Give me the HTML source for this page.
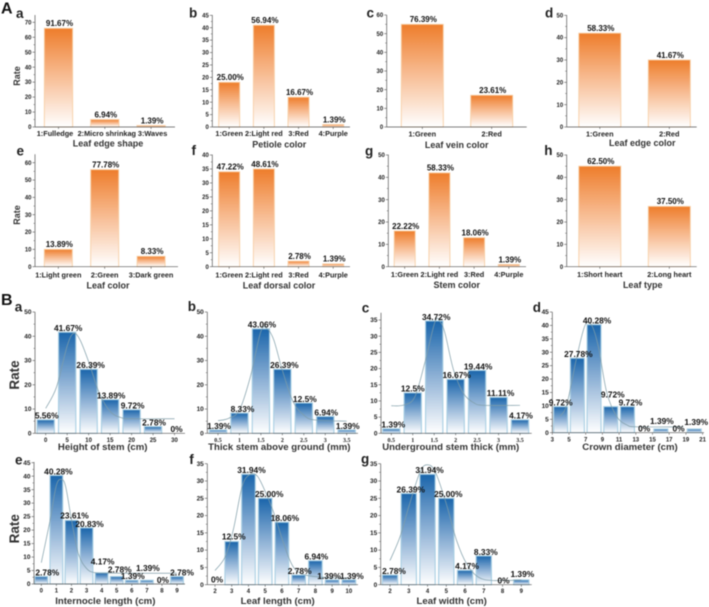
<!DOCTYPE html>
<html lang="en">
<head>
<meta charset="utf-8">
<title>Leaf and stem trait distributions</title>
<style>
html,body{margin:0;padding:0;background:#fff;}
#figure{display:block;width:709px;height:607px;filter:blur(0.4px);font-family:"Liberation Sans",sans-serif;font-weight:bold;fill:#222;}
.letter-big{font-size:16px;fill:#111;}
.letter{font-size:13.5px;fill:#222;}
.title-a{font-size:9px;text-anchor:middle;fill:#333;}
.title-b{font-size:9.6px;text-anchor:middle;fill:#333;}
.rate-a{font-size:9px;text-anchor:middle;fill:#333;}
.rate-b{font-size:13.5px;text-anchor:middle;fill:#333;}
</style>
</head>
<body>
<svg id="figure" xmlns="http://www.w3.org/2000/svg" width="709" height="607" viewBox="0 0 709 607">
  <defs>
    <linearGradient id="orangeFill" x1="0" y1="0" x2="0" y2="1">
      <stop offset="0" stop-color="#ee7d2b"/>
      <stop offset="0.45" stop-color="#f7b88c"/>
      <stop offset="1" stop-color="#ffffff"/>
    </linearGradient>
    <linearGradient id="blueFill" x1="0" y1="0" x2="0" y2="1">
      <stop offset="0" stop-color="#1a65ab"/>
      <stop offset="0.5" stop-color="#8fb2d6"/>
      <stop offset="1" stop-color="#ffffff"/>
    </linearGradient>
  </defs>

  <text class="letter-big" x="1" y="13.5">A</text>
  <text class="letter-big" x="1" y="305">B</text>

  <text class="letter" x="16" y="18">a</text>
  <text class="letter" x="189" y="17.5">b</text>
  <text class="letter" x="366.5" y="17.7">c</text>
  <text class="letter" x="545" y="17.3">d</text>
  <text class="letter" x="16.5" y="155.7">e</text>
  <text class="letter" x="191.5" y="155">f</text>
  <text class="letter" x="365" y="155.7">g</text>
  <text class="letter" x="544.3" y="155">h</text>
  <text class="letter" x="14.7" y="311.7">a</text>
  <text class="letter" x="187.7" y="311">b</text>
  <text class="letter" x="361.7" y="312.7">c</text>
  <text class="letter" x="532.7" y="312">d</text>
  <text class="letter" x="15" y="464.3">e</text>
  <text class="letter" x="189.3" y="464">f</text>
  <text class="letter" x="361" y="463.7">g</text>

  <text class="rate-a" transform="translate(19.8,76) rotate(-90)">Rate</text>
  <text class="rate-a" transform="translate(19.8,215) rotate(-90)">Rate</text>
  <text class="rate-b" transform="translate(18.8,375) rotate(-90)">Rate</text>
  <text class="rate-b" transform="translate(18.8,528.7) rotate(-90)">Rate</text>

  <text class="title-a" x="108" y="146.3">Leaf edge shape</text>
  <text class="title-a" x="279.3" y="147.4">Petiole color</text>
  <text class="title-a" x="456.7" y="148">Leaf vein color</text>
  <text class="title-a" x="642.3" y="146">Leaf edge color</text>
  <text class="title-a" x="108" y="288.3">Leaf color</text>
  <text class="title-a" x="279" y="288.3">Leaf dorsal color</text>
  <text class="title-a" x="456.7" y="288">Stem color</text>
  <text class="title-a" x="642.7" y="288">Leaf type</text>
  <text class="title-b" x="102.7" y="450">Height of stem (cm)</text>
  <text class="title-b" x="279.3" y="450">Thick stem above ground (mm)</text>
  <text class="title-b" x="450.7" y="450">Underground stem thick (mm)</text>
  <text class="title-b" x="630" y="450">Crown diameter (cm)</text>
  <text class="title-b" x="105.3" y="604">Internocle length (cm)</text>
  <text class="title-b" x="277.7" y="604">Leaf length (cm)</text>
  <text class="title-b" x="451.7" y="604">Leaf width (cm)</text>
</svg>

<script>
// ---- Section A data ----
const edgeShapeCategories = ['1:Fulledge', '2:Micro shrinkag', '3:Waves'];
const edgeShapeValues = [66, 5, 1];
const edgeShapeLabels = ['91.67%', '6.94%', '1.39%'];
const edgeShapeTicks = [0, 10, 20, 30, 40, 50, 60, 70];

const petioleCategories = ['1:Green', '2:Light red', '3:Red', '4:Purple'];
const petioleValues = [18, 41, 12, 1];
const petioleLabels = ['25.00%', '56.94%', '16.67%', '1.39%'];
const petioleTicks = [0, 5, 10, 15, 20, 25, 30, 35, 40, 45];

const veinCategories = ['1:Green', '2:Red'];
const veinValues = [55, 17];
const veinLabels = ['76.39%', '23.61%'];
const veinTicks = [0, 10, 20, 30, 40, 50, 60];

const edgeColorCategories = ['1:Green', '2:Red'];
const edgeColorValues = [42, 30];
const edgeColorLabels = ['58.33%', '41.67%'];
const edgeColorTicks = [0, 10, 20, 30, 40, 50];

const leafColorCategories = ['1:Light green', '2:Green', '3:Dark green'];
const leafColorValues = [10, 56, 6];
const leafColorLabels = ['13.89%', '77.78%', '8.33%'];
const leafColorTicks = [0, 10, 20, 30, 40, 50, 60];

const dorsalCategories = ['1:Green', '2:Light red', '3:Red', '4:Purple'];
const dorsalValues = [34, 35, 2, 1];
const dorsalLabels = ['47.22%', '48.61%', '2.78%', '1.39%'];
const dorsalTicks = [0, 5, 10, 15, 20, 25, 30, 35, 40];

const stemColorCategories = ['1:Green', '2:Light red', '3:Red', '4:Purple'];
const stemColorValues = [16, 42, 13, 1];
const stemColorLabels = ['22.22%', '58.33%', '18.06%', '1.39%'];
const stemColorTicks = [0, 10, 20, 30, 40, 50];

const leafTypeCategories = ['1:Short heart', '2:Long heart'];
const leafTypeValues = [45, 27];
const leafTypeLabels = ['62.50%', '37.50%'];
const leafTypeTicks = [0, 10, 20, 30, 40, 50];

// ---- Section B data ----
const heightCategories = ['0', '5', '10', '15', '20', '25', '30'];
const heightValues = [5.56, 41.67, 26.39, 13.89, 9.72, 2.78, 0];
const heightLabels = ['5.56%', '41.67%', '26.39%', '13.89%', '9.72%', '2.78%', '0%'];
const heightTicks = [0, 10, 20, 30, 40, 50];
const heightCurveX = [0, 0.5, 1, 1.3, 1.6, 2, 2.5, 3, 3.5, 4, 6];
const heightCurveY = [10.3, 19, 36, 41.2, 38.5, 29.5, 16.5, 9, 6.5, 6, 6];

const thickCategories = ['0.5', '1', '1.5', '2', '2.5', '3', '3.5'];
const thickValues = [1.39, 8.33, 43.06, 26.39, 12.5, 6.94, 1.39];
const thickLabels = ['1.39%', '8.33%', '43.06%', '26.39%', '12.5%', '6.94%', '1.39%'];
const thickTicks = [0, 10, 20, 30, 40, 50];
const thickCurveX = [0, 0.5, 1, 1.5, 2, 2.3, 2.6, 3, 3.5, 4, 4.5, 6];
const thickCurveY = [5.2, 6.2, 9.6, 23, 42, 43, 38.5, 26, 13, 7.5, 5.5, 5];

const undergroundCategories = ['0.5', '1', '1.5', '2', '2.5', '3', '3.5'];
const undergroundValues = [1.39, 12.5, 34.72, 16.67, 19.44, 11.11, 4.17];
const undergroundLabels = ['1.39%', '12.5%', '34.72%', '16.67%', '19.44%', '11.11%', '4.17%'];
const undergroundTicks = [0, 5, 10, 15, 20, 25, 30, 35];
const undergroundCurveX = [0, 0.6, 1.1, 1.57, 2.04, 2.27, 2.5, 2.9, 3.36, 3.83, 4.29, 6];
const undergroundCurveY = [8.5, 8.75, 11.3, 22, 34.5, 34.5, 31, 19.6, 12.4, 9.5, 8.65, 8.65];

const crownCategories = ['3', '5', '7', '9', '11', '13', '15', '17', '19', '21'];
const crownBins = [0.5, 1.5, 2.5, 3.5, 4.5, 5.5, 6.5, 7.5, 8.5];
const crownValues = [9.72, 27.78, 40.28, 9.72, 9.72, 0, 1.39, 0, 1.39];
const crownLabels = ['9.72%', '27.78%', '40.28%', '9.72%', '9.72%', '0%', '1.39%', '0%', '1.39%'];
const crownTicks = [0, 5, 10, 15, 20, 25, 30, 35, 40, 45];
const crownCurveX = [0.46, 0.86, 1.46, 1.96, 2.36, 2.76, 3.26, 3.86, 4.46, 5.06, 7.86];
const crownCurveY = [6.2, 10.3, 28, 40, 40, 32, 15, 6, 2.9, 2.2, 2.2];

const internodeCategories = ['0', '1', '2', '3', '4', '5', '6', '7', '8', '9'];
const internodeValues = [2.78, 40.28, 23.61, 20.83, 4.17, 2.78, 1.39, 1.39, 0, 2.78];
const internodeLabels = ['2.78%', '40.28%', '23.61%', '20.83%', '4.17%', '2.78%', '1.39%', '1.39%', '0%', '2.78%'];
const internodeTicks = [0, 5, 10, 15, 20, 25, 30, 35, 40, 45];
const internodeCurveX = [0, 0.58, 1, 1.35, 1.62, 2.01, 2.46, 3.01, 3.56, 4.56, 8.98];
const internodeCurveY = [7.9, 23.6, 36.6, 38.8, 36, 23.6, 11.2, 5.7, 4.2, 4, 4];

const lengthCategories = ['2', '3', '4', '5', '6', '7', '8', '9', '10'];
const lengthValues = [0, 12.5, 31.94, 25, 18.06, 2.78, 6.94, 1.39, 1.39];
const lengthLabels = ['0%', '12.5%', '31.94%', '25.00%', '18.06%', '2.78%', '6.94%', '1.39%', '1.39%'];
const lengthTicks = [0, 5, 10, 15, 20, 25, 30, 35];
const lengthCurveX = [0, 0.6, 1.1, 1.6, 2, 2.5, 3, 3.5, 4.1, 4.7, 5.5, 7.07, 8];
const lengthCurveY = [4.1, 8, 16, 28, 31.6, 31.6, 27, 21, 12, 5, 2.7, 2, 2];

const widthCategories = ['2', '3', '4', '5', '6', '7', '8', '9'];
const widthValues = [2.78, 26.39, 31.94, 25, 4.17, 8.33, 0, 1.39];
const widthLabels = ['2.78%', '26.39%', '31.94%', '25.00%', '4.17%', '8.33%', '0%', '1.39%'];
const widthTicks = [0, 5, 10, 15, 20, 25, 30, 35];
const widthCurveX = [0, 0.53, 1, 1.6, 2, 2.42, 3, 3.55, 4.09, 4.7, 5.5, 7];
const widthCurveY = [7, 13.8, 22.5, 32.6, 34.7, 32.6, 23.4, 12.8, 6, 2.2, 1.2, 1.4];

// ---- Panel layout (pixels live here, values live above) ----
const panels = [
  {id:'leaf-edge-shape', kind:'a', axisX:35, endX:175, base:127, refVal:70, refPx:22.3, top:15, first:58.5, step:46.3, barW:28.3, tickY:135.8, tickShift:[-3.5,2,1.5], cats:edgeShapeCategories, vals:edgeShapeValues, labels:edgeShapeLabels, ticks:edgeShapeTicks},
  {id:'petiole-color', kind:'a', axisX:212.3, endX:350, base:127, refVal:45, refPx:15.3, top:15, first:229.2, step:34.67, barW:21, tickY:136, cats:petioleCategories, vals:petioleValues, labels:petioleLabels, ticks:petioleTicks},
  {id:'leaf-vein-color', kind:'a', axisX:386.7, endX:526.7, base:127, refVal:60, refPx:15, top:15, first:422.3, step:69.4, barW:42, tickY:136.3, cats:veinCategories, vals:veinValues, labels:veinLabels, ticks:veinTicks},
  {id:'leaf-edge-color', kind:'a', axisX:566.7, endX:696.7, base:127, refVal:50, refPx:15.3, top:15, first:599.8, step:69.5, barW:42, tickY:136.3, cats:edgeColorCategories, vals:edgeColorValues, labels:edgeColorLabels, ticks:edgeColorTicks},
  {id:'leaf-color', kind:'a', axisX:35, endX:178, base:266.7, refVal:60, refPx:162.7, top:154.3, first:58.3, step:46.4, barW:28, tickY:277.3, cats:leafColorCategories, vals:leafColorValues, labels:leafColorLabels, ticks:leafColorTicks},
  {id:'leaf-dorsal-color', kind:'a', axisX:212.3, endX:350, base:266.7, refVal:40, refPx:155, top:154.6, first:229.2, step:34.67, barW:21, tickY:277.3, cats:dorsalCategories, vals:dorsalValues, labels:dorsalLabels, ticks:dorsalTicks},
  {id:'stem-color', kind:'a', axisX:388.3, endX:526, base:266.7, refVal:50, refPx:155, top:154.6, first:404.7, step:34.7, barW:21, tickY:276.8, cats:stemColorCategories, vals:stemColorValues, labels:stemColorLabels, ticks:stemColorTicks},
  {id:'leaf-type', kind:'a', axisX:566.7, endX:696.7, base:266.7, refVal:50, refPx:155, top:154.6, first:599.8, step:69.5, barW:42, tickY:276.8, cats:leafTypeCategories, vals:leafTypeValues, labels:leafTypeLabels, ticks:leafTypeTicks},

  {id:'height-of-stem', kind:'b', axisX:35, endX:185, base:433.3, refVal:50, refPx:312, top:312, first:45.7, step:21.47, barW:17.3, tickY:441.8, cats:heightCategories, vals:heightValues, labels:heightLabels, ticks:heightTicks, curveX:heightCurveX, curveY:heightCurveY,
   shift:[[1,0],[1,0],[2,0],[1,0],[1,0],[1,0],[2,0]]},
  {id:'thick-stem', kind:'b', axisX:207.3, endX:358, base:433.3, refVal:50, refPx:312, top:312, first:218, step:21.45, barW:17.3, tickY:441.8, serif:true, cats:thickCategories, vals:thickValues, labels:thickLabels, ticks:thickTicks, curveX:thickCurveX, curveY:thickCurveY,
   shift:[[1,0],[3,0],[1,0],[2,0],[1,0],[1,0],[1,0]]},
  {id:'underground-stem', kind:'b', axisX:381, endX:531.7, base:433.3, refVal:35, refPx:320, top:312.7, first:391.3, step:21.45, barW:17.3, tickY:441.8, serif:true, cats:undergroundCategories, vals:undergroundValues, labels:undergroundLabels, ticks:undergroundTicks, curveX:undergroundCurveX, curveY:undergroundCurveY,
   shift:[[2,0],[0,0],[2,0],[1,0],[1,0],[2,0],[1,0]]},
  {id:'crown-diameter', kind:'b', axisX:552.3, endX:704, base:432.7, refVal:45, refPx:312, top:312, first:552.3, step:16.7, barW:14, tickY:441.5, cats:crownCategories, bins:crownBins, vals:crownValues, labels:crownLabels, ticks:crownTicks, curveX:crownCurveX, curveY:crownCurveY,
   shift:[[0,0],[1,0],[3,0],[2,-8],[3,0],[0,0],[1,-4],[1,0],[2,-3]]},
  {id:'internode-length', kind:'b', axisX:34, endX:185, base:584, refVal:45, refPx:462.7, top:462, first:41.3, step:15.08, barW:12.7, tickY:592.5, cats:internodeCategories, vals:internodeValues, labels:internodeLabels, ticks:internodeTicks, curveX:internodeCurveX, curveY:internodeCurveY,
   shift:[[6,0],[2,0],[3,-1],[3,0],[1,-7],[3,-3],[1,0],[1,-8],[1,0],[5,0]]},
  {id:'leaf-length', kind:'b', axisX:207.3, endX:358, base:584.7, refVal:35, refPx:463.7, top:463.7, first:215, step:16.73, barW:13.6, tickY:593, cats:lengthCategories, vals:lengthValues, labels:lengthLabels, ticks:lengthTicks, curveX:lengthCurveX, curveY:lengthCurveY,
   shift:[[2,-1],[2,-1],[3,0],[4,0],[3,0],[1,0],[1,0],[-3,0],[3,0]]},
  {id:'leaf-width', kind:'b', axisX:380.7, endX:531.7, base:584.7, refVal:35, refPx:463.7, top:463.7, first:390, step:18.76, barW:15.3, tickY:593, cats:widthCategories, vals:widthValues, labels:widthLabels, ticks:widthTicks, curveX:widthCurveX, curveY:widthCurveY,
   shift:[[4,0],[2,0],[2,0],[2,0],[2,0],[2,0],[1,0],[1,-2]]}
];

const SVG_NS = 'http://www.w3.org/2000/svg';
const figure = document.getElementById('figure');

function node(tag, parent, attrs) {
  const el = document.createElementNS(SVG_NS, tag);
  for (const k in attrs) el.setAttribute(k, attrs[k]);
  parent.appendChild(el);
  return el;
}

function smoothPath(pts) {
  let d = 'M' + pts[0][0].toFixed(2) + ' ' + pts[0][1].toFixed(2);
  for (let i = 0; i < pts.length - 1; i++) {
    const p0 = pts[Math.max(0, i - 1)], p1 = pts[i], p2 = pts[i + 1], p3 = pts[Math.min(pts.length - 1, i + 2)];
    const c1x = p1[0] + (p2[0] - p0[0]) / 6, c1y = p1[1] + (p2[1] - p0[1]) / 6;
    const c2x = p2[0] - (p3[0] - p1[0]) / 6, c2y = p2[1] - (p3[1] - p1[1]) / 6;
    d += 'C' + c1x.toFixed(2) + ' ' + c1y.toFixed(2) + ' ' + c2x.toFixed(2) + ' ' + c2y.toFixed(2) + ' ' + p2[0].toFixed(2) + ' ' + p2[1].toFixed(2);
  }
  return d;
}

function drawPanel(p) {
  const isB = p.kind === 'b';
  const xScale = function (v) { return p.first + v * p.step; };
  const yScale = function (v) { return p.base - v * (p.base - p.refPx) / p.refVal; };
  const axisColor = '#555';

  const g = node('g', figure, {});
  
  

  // bars
  p.vals.forEach(function (v, i) {
    const pos = p.bins ? p.bins[i] : i;
    const h = yScale(0) - yScale(v);
    if (h <= 0) return;
    const bar = node('rect', g, {
      x: xScale(pos) - p.barW / 2, y: yScale(v), width: p.barW, height: h,
      fill: isB ? 'url(#blueFill)' : 'url(#orangeFill)',
      stroke: isB ? '#a9cfe3' : '#f7cfa6', 'stroke-width': isB ? 1.1 : 0.9
    });
    
    
  });

  // axes
  const yAxis = node('line', g, {x1: p.axisX, x2: p.axisX, y1: p.top, y2: p.base, stroke: axisColor, 'stroke-width': 0.7});
  
  
  const xAxis = node('line', g, {x1: p.axisX, x2: p.endX, y1: p.base, y2: p.base, stroke: axisColor, 'stroke-width': 0.7});
  
  

  // y ticks + minor ticks
  p.ticks.forEach(function (t, i) {
    const y = yScale(t);
    const tick = node('line', g, {x1: p.axisX - 2.5, x2: p.axisX, y1: y, y2: y, stroke: axisColor, 'stroke-width': 0.6});
    
    
    const lab = node('text', g, {x: p.axisX - 3.5, y: y + 2.1, 'text-anchor': 'end', 'font-size': isB ? 6.5 : 6, fill: '#222'});
    
    
    lab.textContent = t;
    if (i < p.ticks.length - 1) {
      const my = yScale((t + p.ticks[i + 1]) / 2);
      const minor = node('line', g, {x1: p.axisX - 1.5, x2: p.axisX, y1: my, y2: my, stroke: axisColor, 'stroke-width': 0.5});
      
      
    }
  });

  // x ticks + labels
  p.cats.forEach(function (c, i) {
    const x = xScale(i);
    const tick = node('line', g, {x1: x, x2: x, y1: p.base, y2: p.base + 2, stroke: axisColor, 'stroke-width': 0.6});
    
    
    const lx = x + (p.tickShift ? p.tickShift[i] : 0);
    const lab = node('text', g, {x: lx, y: p.tickY, 'text-anchor': 'middle', 'font-size': isB ? 6 : 7.3, fill: '#222'});
    if (p.serif) lab.setAttribute('font-family', '"Liberation Serif", serif');
    
    
    lab.textContent = c;
  });

  // fitted curve
  if (p.curveX) {
    const pts = p.curveX.map(function (cx, i) { return [xScale(cx), yScale(p.curveY[i])]; });
    const curve = node('path', g, {d: smoothPath(pts), fill: 'none', stroke: '#7f9da8', 'stroke-width': 0.7});
    
    
  }

  // printed values
  p.labels.forEach(function (t, i) {
    const pos = p.bins ? p.bins[i] : i;
    const s = p.shift ? p.shift[i] : [1, 0];
    const lab = node('text', g, {
      x: xScale(pos) + s[0], y: yScale(p.vals[i]) + (isB ? -1.1 : -2.2) + s[1],
      'text-anchor': 'middle', 'font-size': isB ? 8.4 : 8, fill: '#111'
    });
    
    
    lab.textContent = t;
  });
}

panels.forEach(drawPanel);
</script>
</body>
</html>
